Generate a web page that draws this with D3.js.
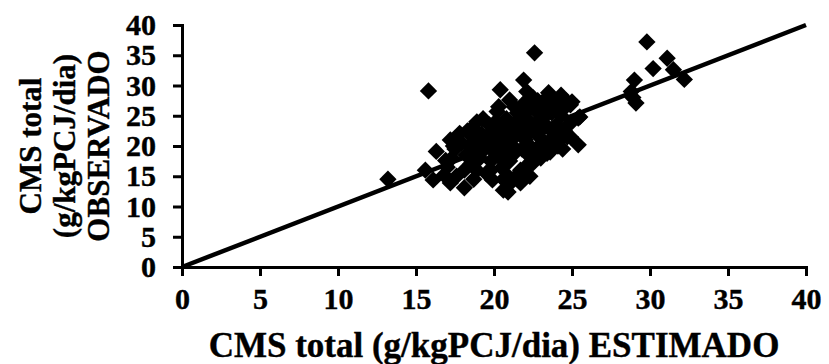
<!DOCTYPE html>
<html>
<head>
<meta charset="utf-8">
<script src="https://cdn.jsdelivr.net/npm/d3@7"></script>
<style>
  body { margin: 0; background: #fff; }
  svg text { font-family: "Liberation Serif", "Times New Roman", serif; font-weight: 700; fill: #000; stroke: #000; stroke-width: 0.4px; }
</style>
</head>
<body>
<svg width="829" height="364"></svg>
<script>
const estimado = [
  13.2, 15.8, 15.6, 16.1, 16.3, 17.2, 18.1, 18.1, 17.2, 17.8, 18.9, 20.2, 20.4, 21.0, 21.9, 22.6,
  22.1, 23.5, 24.3, 25.0, 25.5, 25.4, 24.7, 23.4, 22.5, 21.7, 20.9, 24.4, 19.9, 20.6, 20.5, 19.5,
  24.9, 25.4,
  29.8, 31.1, 30.2, 29.0, 32.2, 31.5, 29.1, 28.8, 28.9,
  16.8, 17.0, 17.3, 16.9, 17.5, 17.6, 17.9, 17.4,
  18.2, 18.4, 18.6, 18.3, 18.8, 18.5, 18.9, 18.7, 19.0, 19.2, 19.1, 18.6,
  19.4, 19.5, 19.7, 19.8, 19.6, 19.9, 19.3, 20.0, 20.0, 19.8,
  20.2, 20.3, 20.5, 20.4, 20.6, 20.8, 20.7, 20.9, 20.3, 20.1, 20.6, 21.0, 21.0,
  21.2, 21.3, 21.4, 21.5, 21.2, 21.6, 21.7, 21.8, 21.9, 21.5, 21.3, 21.8, 21.1,
  22.0, 22.1, 22.2, 22.3, 22.4, 22.5, 22.6, 22.7, 22.8, 22.2, 22.9, 22.4, 22.0, 22.3, 22.8,
  23.0, 23.1, 23.2, 23.3, 23.5, 23.6, 23.7, 23.4, 23.9, 23.8, 23.2, 23.0, 23.6,
  24.0, 24.2, 24.3, 24.5, 24.6, 24.8, 24.1, 24.4, 24.9, 24.0
];
const observado = [
  14.5, 29.1, 16.0, 14.4, 19.1, 13.9, 13.1, 16.0, 21.0, 22.1, 24.0, 25.7, 29.3, 27.6, 30.9, 35.4,
  29.0, 28.8, 28.4, 27.3, 24.8, 20.2, 21.5, 18.8, 17.2, 13.9, 12.4, 26.0, 14.4, 12.7, 16.4, 15.5,
  26.8, 24.6,
  37.2, 34.5, 32.8, 30.9, 31.0, 32.6, 27.1, 29.0, 28.0,
  15.2, 16.5, 18.0, 17.6, 19.5, 15.0, 20.5, 20.0,
  18.5, 20.0, 21.5, 22.5, 19.0, 17.0, 16.0, 14.5, 20.5, 22.0, 18.0, 23.0,
  19.5, 21.0, 23.5, 17.5, 20.5, 22.5, 24.5, 19.0, 21.5, 16.0,
  20.0, 22.0, 23.5, 18.0, 21.0, 24.5, 19.5, 15.0, 26.5, 24.0, 14.5, 22.5, 17.5,
  20.0, 21.5, 24.0, 25.5, 18.5, 22.5, 16.0, 19.5, 27.0, 15.2, 26.5, 23.5, 14.0,
  21.0, 24.5, 26.0, 20.0, 22.5, 28.0, 23.5, 19.5, 25.5, 18.5, 21.5, 27.0, 16.5, 15.0, 27.5,
  22.5, 24.5, 20.5, 26.5, 23.0, 21.0, 25.5, 28.0, 22.0, 27.0, 19.5, 18.0, 19.0,
  23.5, 21.0, 25.0, 22.5, 27.5, 23.5, 20.0, 19.5, 21.5, 26.5
];
const xTicks = [0, 5, 10, 15, 20, 25, 30, 35, 40];
const yTicks = [0, 5, 10, 15, 20, 25, 30, 35, 40];
const linePoints = [[0, 0], [40, 40]];

const svg = d3.select('svg');

const x = d3.scaleLinear().domain([0, 40]).range([182, 806]);
const y = d3.scaleLinear().domain([0, 40]).range([267, 25]);

const points = estimado.map((d, i) => [d, observado[i]]);

// markers
const diamond = d3.symbol().type(d3.symbolSquare).size(150);
svg.append('g')
  .selectAll('path')
  .data(points)
  .join('path')
    .attr('d', diamond)
    .attr('transform', d => `translate(${x(d[0])},${y(d[1])}) rotate(45)`)
    .attr('fill', '#000');

// axes
const xAxis = svg.append('g')
  .attr('transform', `translate(0,${y(0)})`)
  .call(d3.axisBottom(x).tickValues(xTicks).tickSize(9).tickPadding(12));
const yAxis = svg.append('g')
  .attr('transform', `translate(${x(0)},0)`)
  .call(d3.axisLeft(y).tickValues(yTicks).tickSize(9).tickPadding(17));

[xAxis, yAxis].forEach(a => {
  a.attr('font-family', null).attr('font-size', null);
  a.select('.domain').attr('stroke', '#000').attr('stroke-width', 3);
  a.selectAll('.tick line').attr('stroke', '#000').attr('stroke-width', 3);
  a.selectAll('.tick text')
    .style('font-size', '30px')
    .style('font-weight', '700');
});

// 1:1 line
svg.append('path')
  .datum(linePoints)
  .attr('d', d3.line().x(d => x(d[0])).y(d => y(d[1])))
  .attr('stroke', '#000')
  .attr('stroke-width', 4.5)
  .attr('fill', 'none');

// titles
svg.append('text')
  .attr('x', 494)
  .attr('y', 357)
  .attr('text-anchor', 'middle')
  .style('font-size', '35px')
  .text('CMS total (g/kgPCJ/dia) ESTIMADO');

const yTitle = ['CMS total', '(g/kgPCJ/dia)', 'OBSERVADO'];
svg.append('g')
  .attr('transform', 'translate(0,146) rotate(-90)')
  .selectAll('text')
  .data(yTitle)
  .join('text')
    .attr('x', 0)
    .attr('y', (d, i) => 41 + i * 34)
    .attr('text-anchor', 'middle')
    .style('font-size', '31px')
    .text(d => d);
</script>
</body>
</html>
